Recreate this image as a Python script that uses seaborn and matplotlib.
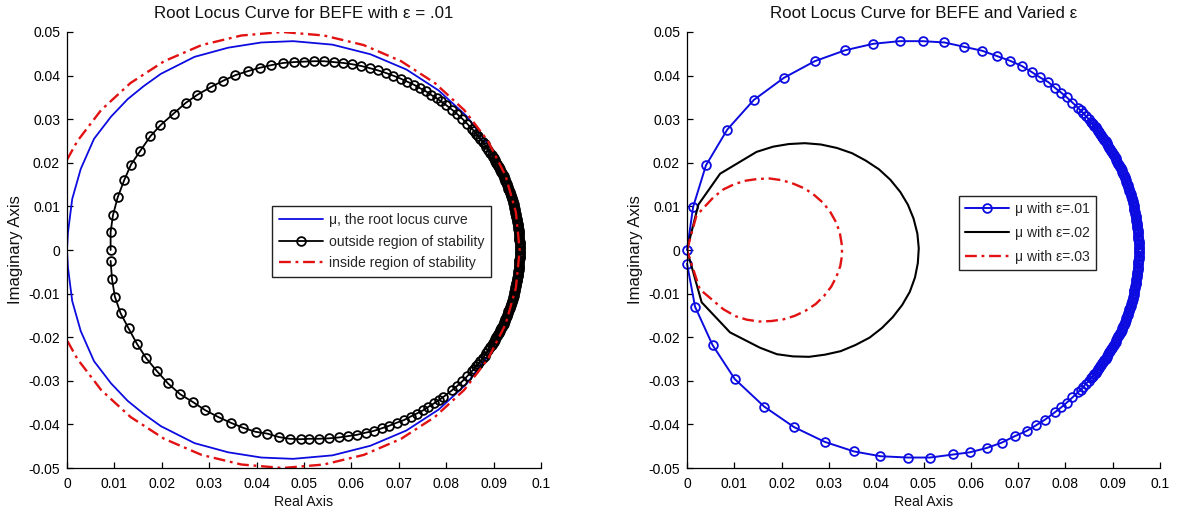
import matplotlib
matplotlib.use("Agg")
import matplotlib.pyplot as plt
import seaborn as sns

# ---------------- data ----------------
x_ticks = [0.0, 0.01, 0.02, 0.03, 0.04, 0.05, 0.06, 0.07, 0.08, 0.09, 0.1]
x_tick_labels = ["0", "0.01", "0.02", "0.03", "0.04", "0.05", "0.06", "0.07", "0.08", "0.09", "0.1"]
y_ticks = [-0.05, -0.04, -0.03, -0.02, -0.01, 0.0, 0.01, 0.02, 0.03, 0.04, 0.05]
y_tick_labels = ["-0.05", "-0.04", "-0.03", "-0.02", "-0.01", "0", "0.01", "0.02", "0.03", "0.04", "0.05"]

# ---- Left panel: mu, the root locus curve (smooth line)
left_mu_x = [0.0955, 0.0948, 0.0926, 0.0891, 0.0843, 0.0784, 0.0716, 0.0640, 0.0560, 0.0477,
             0.0410, 0.0340, 0.0269, 0.0198, 0.0162, 0.0128, 0.0093, 0.0057, 0.0029, 0.0011,
             0.0002, 0.0000, 0.0002, 0.0011, 0.0029, 0.0057, 0.0093, 0.0128, 0.0162, 0.0198,
             0.0269, 0.0340, 0.0410, 0.0477, 0.0560, 0.0640, 0.0716, 0.0784, 0.0843, 0.0891,
             0.0926, 0.0948, 0.0955]
left_mu_y = [0.0000, 0.0083, 0.0163, 0.0239, 0.0307, 0.0366, 0.0414, 0.0449, 0.0471, 0.0479,
             0.0476, 0.0464, 0.0443, 0.0404, 0.0376, 0.0346, 0.0306, 0.0255, 0.0186, 0.0117,
             0.0040, 0.0000, -0.0040, -0.0117, -0.0186, -0.0255, -0.0306, -0.0346, -0.0376, -0.0404,
             -0.0443, -0.0464, -0.0476, -0.0479, -0.0471, -0.0449, -0.0414, -0.0366, -0.0307, -0.0239,
             -0.0163, -0.0083, 0.0000]

# ---- Left panel: outside region of stability (circle markers)
out_top_x = [0.0092, 0.0092, 0.0097, 0.0107, 0.0121, 0.0135, 0.0155, 0.0176, 0.0197, 0.0225,
             0.0250, 0.0275, 0.0304, 0.0329, 0.0355, 0.0381, 0.0407, 0.0431, 0.0456, 0.0479,
             0.0500, 0.0521, 0.0542, 0.0563, 0.0583, 0.0602, 0.0621, 0.0639, 0.0656, 0.0673,
             0.0688, 0.0704, 0.0718, 0.0732, 0.0745, 0.0757, 0.0768, 0.0780, 0.0789, 0.0799]
out_top_y = [0.0000, 0.0041, 0.0080, 0.0121, 0.0161, 0.0196, 0.0228, 0.0261, 0.0286, 0.0313,
             0.0337, 0.0356, 0.0374, 0.0388, 0.0401, 0.0410, 0.0418, 0.0424, 0.0429, 0.0431,
             0.0432, 0.0433, 0.0433, 0.0431, 0.0429, 0.0426, 0.0422, 0.0417, 0.0412, 0.0406,
             0.0400, 0.0393, 0.0386, 0.0379, 0.0371, 0.0364, 0.0356, 0.0348, 0.0341, 0.0333]
out_band_top_x = [0.0812, 0.0823, 0.0834, 0.0844, 0.0854, 0.0859, 0.0863, 0.0868, 0.0872, 0.0877,
                  0.0881, 0.0885, 0.0889, 0.0893,
                  0.0897, 0.0899, 0.0901, 0.0903, 0.0904, 0.0906, 0.0908, 0.0910, 0.0911, 0.0913,
                  0.0914, 0.0916, 0.0918, 0.0919, 0.0921, 0.0922, 0.0924, 0.0925, 0.0926, 0.0928,
                  0.0929, 0.0930, 0.0931, 0.0933, 0.0934, 0.0935, 0.0936, 0.0937, 0.0938, 0.0939,
                  0.0940, 0.0941, 0.0942, 0.0943, 0.0944, 0.0945, 0.0946, 0.0946, 0.0947, 0.0948,
                  0.0948, 0.0949, 0.0950, 0.0950, 0.0951, 0.0951, 0.0952, 0.0952, 0.0953, 0.0953,
                  0.0953, 0.0954, 0.0954, 0.0954, 0.0954, 0.0955, 0.0955, 0.0955, 0.0955, 0.0955,
                  0.0955]
out_band_top_y = [0.0322, 0.0312, 0.0301, 0.0290, 0.0278, 0.0273, 0.0267, 0.0261, 0.0255, 0.0248,
                  0.0242, 0.0236, 0.0230, 0.0223,
                  0.0217, 0.0213, 0.0210, 0.0207, 0.0203, 0.0200, 0.0197, 0.0193, 0.0190, 0.0186,
                  0.0183, 0.0180, 0.0176, 0.0173, 0.0169, 0.0166, 0.0162, 0.0159, 0.0155, 0.0152,
                  0.0148, 0.0145, 0.0141, 0.0137, 0.0134, 0.0130, 0.0127, 0.0123, 0.0119, 0.0116,
                  0.0112, 0.0108, 0.0105, 0.0101, 0.0097, 0.0094, 0.0090, 0.0086, 0.0083, 0.0079,
                  0.0075, 0.0071, 0.0068, 0.0064, 0.0060, 0.0057, 0.0053, 0.0049, 0.0045, 0.0041,
                  0.0038, 0.0034, 0.0030, 0.0026, 0.0023, 0.0019, 0.0015, 0.0011, 0.0008, 0.0004,
                  0.0000]
out_band_bot_x = [0.0955, 0.0955, 0.0955, 0.0955, 0.0955, 0.0954, 0.0954, 0.0954, 0.0954, 0.0953,
                  0.0953, 0.0953, 0.0952, 0.0952, 0.0951, 0.0951, 0.0950, 0.0950, 0.0949, 0.0948,
                  0.0948, 0.0947, 0.0946, 0.0946, 0.0945, 0.0944, 0.0943, 0.0942, 0.0941, 0.0940,
                  0.0939, 0.0938, 0.0937, 0.0936, 0.0935, 0.0934, 0.0933, 0.0931, 0.0930, 0.0929,
                  0.0928, 0.0926, 0.0925, 0.0924, 0.0922, 0.0921, 0.0919, 0.0918, 0.0916, 0.0914,
                  0.0913, 0.0911, 0.0910, 0.0908, 0.0906, 0.0904, 0.0903, 0.0901, 0.0899, 0.0897,
                  0.0893, 0.0889, 0.0885, 0.0881, 0.0877, 0.0872, 0.0868, 0.0863, 0.0859, 0.0854,
                  0.0844, 0.0834, 0.0823, 0.0812]
out_band_bot_y = [-0.0004, -0.0008, -0.0011, -0.0015, -0.0019, -0.0023, -0.0026, -0.0030, -0.0034, -0.0038,
                  -0.0041, -0.0045, -0.0049, -0.0053, -0.0057, -0.0060, -0.0064, -0.0068, -0.0071, -0.0075,
                  -0.0079, -0.0083, -0.0086, -0.0090, -0.0094, -0.0097, -0.0101, -0.0105, -0.0108, -0.0112,
                  -0.0116, -0.0119, -0.0123, -0.0127, -0.0130, -0.0134, -0.0137, -0.0141, -0.0145, -0.0148,
                  -0.0152, -0.0155, -0.0159, -0.0162, -0.0166, -0.0169, -0.0173, -0.0176, -0.0180, -0.0183,
                  -0.0186, -0.0190, -0.0193, -0.0197, -0.0200, -0.0203, -0.0207, -0.0210, -0.0213, -0.0217,
                  -0.0223, -0.0230, -0.0236, -0.0242, -0.0248, -0.0255, -0.0261, -0.0267, -0.0273, -0.0278,
                  -0.0290, -0.0301, -0.0312, -0.0322]
out_bot_x = [0.0794, 0.0784, 0.0774, 0.0762, 0.0751, 0.0738, 0.0725, 0.0711, 0.0696, 0.0680,
             0.0664, 0.0647, 0.0630, 0.0611, 0.0592, 0.0573, 0.0552, 0.0531, 0.0510, 0.0493,
             0.0470, 0.0447, 0.0422, 0.0398, 0.0372, 0.0345, 0.0319, 0.0291, 0.0266, 0.0239,
             0.0213, 0.0189, 0.0167, 0.0148, 0.0130, 0.0113, 0.0101, 0.0095, 0.0092]
out_bot_y = [-0.0337, -0.0345, -0.0352, -0.0360, -0.0368, -0.0375, -0.0382, -0.0390, -0.0396, -0.0403,
             -0.0409, -0.0415, -0.0419, -0.0424, -0.0427, -0.0430, -0.0432, -0.0433, -0.0433, -0.0434,
             -0.0433, -0.0429, -0.0421, -0.0417, -0.0408, -0.0396, -0.0383, -0.0367, -0.0349, -0.0331,
             -0.0306, -0.0277, -0.0248, -0.0216, -0.0180, -0.0145, -0.0107, -0.0067, -0.0025]

# ---- Left panel: inside region of stability (dash-dot)
left_in_x = [0.0000, 0.0022, 0.0072, 0.0134, 0.0205, 0.0284, 0.0368, 0.0455, 0.0542, 0.0626,
             0.0705, 0.0776, 0.0838, 0.0888, 0.0925, 0.0947, 0.0955,
             0.0947, 0.0925, 0.0888, 0.0838, 0.0776, 0.0705, 0.0626, 0.0542, 0.0455,
             0.0368, 0.0284, 0.0205, 0.0134, 0.0072, 0.0022, 0.0000]
left_in_y = [0.0207, 0.0250, 0.0321, 0.0383, 0.0433, 0.0470, 0.0492, 0.0500, 0.0492, 0.0470,
             0.0433, 0.0383, 0.0321, 0.0250, 0.0171, 0.0087, 0.0000,
             -0.0087, -0.0171, -0.0250, -0.0321, -0.0383, -0.0433, -0.0470, -0.0492, -0.0500,
             -0.0492, -0.0470, -0.0433, -0.0383, -0.0321, -0.0250, -0.0207]

# ---- Right panel: mu with eps = .01 (circle markers)
e01_top_x = [0.0000, 0.0013, 0.0040, 0.0085, 0.0141, 0.0205, 0.0270, 0.0334, 0.0394, 0.0450,
             0.0498, 0.0544, 0.0586, 0.0624, 0.0655, 0.0683, 0.0708, 0.0729, 0.0746, 0.0764]
e01_top_y = [0.0000, 0.0099, 0.0194, 0.0276, 0.0344, 0.0395, 0.0433, 0.0458, 0.0473, 0.0479,
             0.0479, 0.0476, 0.0466, 0.0457, 0.0445, 0.0434, 0.0422, 0.0408, 0.0396, 0.0385]
e01_band_top_x = [0.0778, 0.0791, 0.0803, 0.0815, 0.0827, 0.0832, 0.0838, 0.0843, 0.0849,
                  0.0854, 0.0856, 0.0859, 0.0861, 0.0864, 0.0866, 0.0869, 0.0871, 0.0873, 0.0876,
                  0.0878, 0.0880, 0.0882, 0.0885, 0.0887, 0.0889, 0.0891, 0.0893, 0.0895, 0.0897,
                  0.0899, 0.0901, 0.0903, 0.0905, 0.0907, 0.0908, 0.0910, 0.0912, 0.0914, 0.0915,
                  0.0917, 0.0919, 0.0920, 0.0922, 0.0923, 0.0925, 0.0926, 0.0928, 0.0929, 0.0930,
                  0.0932, 0.0933, 0.0934, 0.0935, 0.0937, 0.0938, 0.0939, 0.0940, 0.0941, 0.0942,
                  0.0943, 0.0944, 0.0945, 0.0945, 0.0946, 0.0947, 0.0948, 0.0949, 0.0949, 0.0950,
                  0.0950, 0.0951, 0.0951, 0.0952, 0.0952, 0.0953, 0.0953, 0.0954, 0.0954, 0.0954,
                  0.0954, 0.0955, 0.0955, 0.0955, 0.0955, 0.0955, 0.0955]
e01_band_top_y = [0.0372, 0.0361, 0.0350, 0.0338, 0.0326, 0.0320, 0.0314, 0.0307, 0.0301,
                  0.0294, 0.0291, 0.0288, 0.0284, 0.0281, 0.0278, 0.0274, 0.0271, 0.0267, 0.0264,
                  0.0260, 0.0257, 0.0253, 0.0250, 0.0246, 0.0243, 0.0239, 0.0235, 0.0232, 0.0228,
                  0.0224, 0.0221, 0.0217, 0.0213, 0.0210, 0.0206, 0.0202, 0.0198, 0.0194, 0.0191,
                  0.0187, 0.0183, 0.0179, 0.0175, 0.0171, 0.0167, 0.0164, 0.0160, 0.0156, 0.0152,
                  0.0148, 0.0144, 0.0140, 0.0136, 0.0132, 0.0128, 0.0124, 0.0120, 0.0116, 0.0112,
                  0.0108, 0.0103, 0.0099, 0.0095, 0.0091, 0.0087, 0.0083, 0.0079, 0.0075, 0.0071,
                  0.0067, 0.0062, 0.0058, 0.0054, 0.0050, 0.0046, 0.0042, 0.0038, 0.0033, 0.0029,
                  0.0025, 0.0021, 0.0017, 0.0013, 0.0008, 0.0004, 0.0000]
e01_band_bot_x = [0.0955, 0.0955, 0.0955, 0.0955, 0.0955, 0.0954, 0.0954, 0.0954, 0.0954, 0.0953,
                  0.0953, 0.0952, 0.0952, 0.0951, 0.0951, 0.0950, 0.0950, 0.0949, 0.0949, 0.0948,
                  0.0947, 0.0946, 0.0945, 0.0945, 0.0944, 0.0943, 0.0942, 0.0941, 0.0940, 0.0939,
                  0.0938, 0.0937, 0.0935, 0.0934, 0.0933, 0.0932, 0.0930, 0.0929, 0.0928, 0.0926,
                  0.0925, 0.0923, 0.0922, 0.0920, 0.0919, 0.0917, 0.0915, 0.0914, 0.0912, 0.0910,
                  0.0908, 0.0907, 0.0905, 0.0903, 0.0901, 0.0899, 0.0897, 0.0895, 0.0893, 0.0891,
                  0.0889, 0.0887, 0.0885, 0.0882, 0.0880, 0.0878, 0.0876, 0.0873, 0.0871, 0.0869,
                  0.0866, 0.0864, 0.0861, 0.0859, 0.0856, 0.0854,
                  0.0849, 0.0843, 0.0838, 0.0832, 0.0827, 0.0815, 0.0803, 0.0791, 0.0778]
e01_band_bot_y = [-0.0004, -0.0008, -0.0013, -0.0017, -0.0021, -0.0025, -0.0029, -0.0033, -0.0038, -0.0042,
                  -0.0046, -0.0050, -0.0054, -0.0058, -0.0062, -0.0067, -0.0071, -0.0075, -0.0079, -0.0083,
                  -0.0087, -0.0091, -0.0095, -0.0099, -0.0103, -0.0108, -0.0112, -0.0116, -0.0120, -0.0124,
                  -0.0128, -0.0132, -0.0136, -0.0140, -0.0144, -0.0148, -0.0152, -0.0156, -0.0160, -0.0164,
                  -0.0167, -0.0171, -0.0175, -0.0179, -0.0183, -0.0187, -0.0191, -0.0194, -0.0198, -0.0202,
                  -0.0206, -0.0210, -0.0213, -0.0217, -0.0221, -0.0224, -0.0228, -0.0232, -0.0235, -0.0239,
                  -0.0243, -0.0246, -0.0250, -0.0253, -0.0257, -0.0260, -0.0264, -0.0267, -0.0271, -0.0274,
                  -0.0278, -0.0281, -0.0284, -0.0288, -0.0291, -0.0294,
                  -0.0301, -0.0307, -0.0314, -0.0320, -0.0326, -0.0338, -0.0350, -0.0361, -0.0372]
e01_bot_x = [0.0757, 0.0738, 0.0718, 0.0693, 0.0665, 0.0634, 0.0598, 0.0563, 0.0514, 0.0467,
             0.0409, 0.0353, 0.0291, 0.0226, 0.0163, 0.0101, 0.0054, 0.0017, 0.0000]
e01_bot_y = [-0.0389, -0.0402, -0.0415, -0.0427, -0.0442, -0.0454, -0.0464, -0.0469, -0.0476, -0.0476,
             -0.0473, -0.0462, -0.0440, -0.0406, -0.0359, -0.0296, -0.0218, -0.0130, -0.0031]

# ---- Right panel: mu with eps = .02
right_e02_x = [0.0000, 0.0024, 0.0070, 0.0147, 0.0182, 0.0215, 0.0249, 0.0283, 0.0317, 0.0349,
               0.0378, 0.0406, 0.0430, 0.0451, 0.0467, 0.0479, 0.0487, 0.0490, 0.0488, 0.0482,
               0.0471, 0.0455, 0.0435, 0.0412, 0.0386, 0.0356, 0.0325, 0.0292, 0.0258, 0.0224,
               0.0190, 0.0154, 0.0091, 0.0031, 0.0000]
right_e02_y = [0.0000, 0.0104, 0.0175, 0.0225, 0.0237, 0.0243, 0.0245, 0.0242, 0.0234, 0.0222,
               0.0205, 0.0185, 0.0161, 0.0133, 0.0104, 0.0072, 0.0038, 0.0004, -0.0030, -0.0063,
               -0.0096, -0.0126, -0.0154, -0.0179, -0.0201, -0.0218, -0.0232, -0.0240, -0.0245, -0.0244,
               -0.0239, -0.0224, -0.0189, -0.0120, 0.0000]

# ---- Right panel: mu with eps = .03
right_e03_x = [0.0000, 0.0020, 0.0056, 0.0077, 0.0100, 0.0124, 0.0150, 0.0175, 0.0201, 0.0225,
               0.0249, 0.0269, 0.0288, 0.0303, 0.0315, 0.0323, 0.0327, 0.0328, 0.0324, 0.0316,
               0.0305, 0.0290, 0.0272, 0.0251, 0.0228, 0.0204, 0.0178, 0.0153, 0.0127, 0.0103,
               0.0077, 0.0027, 0.0000]
right_e03_y = [0.0000, 0.0079, 0.0121, 0.0139, 0.0151, 0.0159, 0.0163, 0.0164, 0.0160, 0.0152,
               0.0141, 0.0126, 0.0108, 0.0087, 0.0064, 0.0040, 0.0014, -0.0011, -0.0037, -0.0061,
               -0.0084, -0.0105, -0.0124, -0.0139, -0.0151, -0.0159, -0.0163, -0.0164, -0.0160, -0.0152,
               -0.0136, -0.0090, 0.0000]

# assemble the marker series from their read segments
left_out_x = out_top_x + out_band_top_x + out_band_bot_x + out_bot_x
left_out_y = out_top_y + out_band_top_y + out_band_bot_y + out_bot_y
right_e01_x = e01_top_x + e01_band_top_x + e01_band_bot_x + e01_bot_x
right_e01_y = e01_top_y + e01_band_top_y + e01_band_bot_y + e01_bot_y

for nm, a, b in [("mu", left_mu_x, left_mu_y), ("out", left_out_x, left_out_y),
                 ("in", left_in_x, left_in_y), ("e01", right_e01_x, right_e01_y),
                 ("e02", right_e02_x, right_e02_y), ("e03", right_e03_x, right_e03_y)]:
    if len(a) != len(b):
        raise SystemExit(f"length mismatch {nm}: {len(a)} vs {len(b)}")

# ---------------- styling ----------------
sns.set_style("white")
plt.rcParams["font.family"] = ["Liberation Sans", "DejaVu Sans"]
plt.rcParams["axes.unicode_minus"] = False

BLUE = "#0c0ce0"
RED = "#e21212"
BLACK = "#000000"
DASHDOT = (0, (5, 2, 1.2, 2))

W, H = 1177, 521
fig = plt.figure(figsize=(W / 100, H / 100), dpi=100)
fig.patch.set_facecolor("white")
axL = fig.add_axes([67 / W, 53 / H, 474 / W, 436 / H])
axR = fig.add_axes([687 / W, 53 / H, 473 / W, 436 / H])

mk = dict(marker="o", markersize=6.3, markerfacecolor="none", markeredgewidth=1.3, clip_on=False)

# Left panel
sns.lineplot(x=left_mu_x, y=left_mu_y, sort=False, estimator=None, ax=axL,
             color=BLUE, linewidth=1.3, label="\u03bc, the root locus curve")
sns.lineplot(x=left_out_x, y=left_out_y, sort=False, estimator=None, ax=axL,
             color=BLACK, linewidth=1.3, markeredgecolor=BLACK,
             label="outside region of stability", **mk)
sns.lineplot(x=left_in_x, y=left_in_y, sort=False, estimator=None, ax=axL,
             color=RED, linewidth=1.7, linestyle=DASHDOT, label="inside region of stability")

# Right panel
sns.lineplot(x=right_e01_x, y=right_e01_y, sort=False, estimator=None, ax=axR,
             color=BLUE, linewidth=1.4, markeredgecolor=BLUE,
             label="\u03bc with \u03b5=.01", **mk)
sns.lineplot(x=right_e02_x, y=right_e02_y, sort=False, estimator=None, ax=axR,
             color=BLACK, linewidth=1.5, label="\u03bc with \u03b5=.02")
sns.lineplot(x=right_e03_x, y=right_e03_y, sort=False, estimator=None, ax=axR,
             color=RED, linewidth=1.7, linestyle=DASHDOT, label="\u03bc with \u03b5=.03")

titles = ["Root Locus Curve for BEFE with \u03b5 = .01", "Root Locus Curve for BEFE and Varied \u03b5"]
legend_pos = [(0.4325, 0.601), (0.575, 0.624)]
legend_spacing = [0.52, 0.70]
legend_borderpad = [0.52, 0.46]

for ax, title, lpos, lsp, lbp in zip([axL, axR], titles, legend_pos, legend_spacing, legend_borderpad):
    ax.set_xlim(0, 0.1)
    ax.set_ylim(-0.05, 0.05)
    ax.set_xticks(x_ticks)
    ax.set_xticklabels(x_tick_labels)
    ax.set_yticks(y_ticks)
    ax.set_yticklabels(y_tick_labels)
    for s in ["top", "right"]:
        ax.spines[s].set_visible(False)
    for s in ["left", "bottom"]:
        ax.spines[s].set_color("black")
        ax.spines[s].set_linewidth(0.9)
    ax.tick_params(axis="both", direction="in", length=4.5, width=0.9, colors="black",
                   labelsize=10.0, left=True, bottom=True)
    ax.tick_params(axis="x", pad=6.5)
    ax.tick_params(axis="y", pad=5)
    ax.set_title(title, fontsize=12.2, pad=10, color="#111111")
    ax.set_xlabel("Real Axis", fontsize=10.2, labelpad=3, color="#111111")
    ax.set_ylabel("Imaginary Axis", fontsize=12.0, labelpad=4, color="#111111")
    leg = ax.legend(loc="upper left", bbox_to_anchor=lpos, fontsize=10.1, frameon=True,
                    fancybox=False, shadow=False, framealpha=1, edgecolor="#222222",
                    handlelength=3.1, handletextpad=0.43, borderpad=lbp,
                    labelspacing=lsp, borderaxespad=0, numpoints=1)
    leg.get_frame().set_linewidth(1.0)
    leg.set_zorder(10)
    ax.set_facecolor("white")

fig.savefig("out.png", dpi=100, facecolor="white")
